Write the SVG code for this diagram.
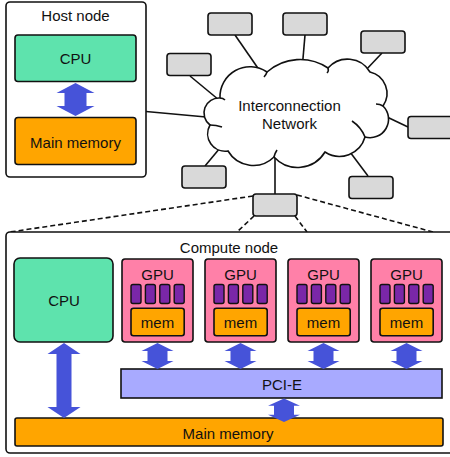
<svg xmlns="http://www.w3.org/2000/svg" xmlns:xlink="http://www.w3.org/1999/xlink" width="450" height="457" viewBox="0 0 450 457">
<style>
text{font-family:"Liberation Sans",Arial,sans-serif;font-size:15px;fill:#111;text-anchor:middle}
.box{stroke:#111;stroke-width:1.6}
.frame{fill:#fff;stroke:#111;stroke-width:1.6}
.cpu{fill:#5ee3ad}
.mem{fill:#ffa500}
.gpu{fill:#ff80a8}
.core{fill:#7a27a8;stroke:#111;stroke-width:1.4}
.pcie{fill:#a8aaff}
.sw{fill:#d9d9d9;stroke:#111;stroke-width:1.6}
.arr{fill:#4653d9}
.ln{stroke:#111;stroke-width:1.6;fill:none}
.dash{stroke:#111;stroke-width:1.6;fill:none;stroke-dasharray:5 3}
.cloud{fill:#fff;stroke:#111;stroke-width:1.6}
</style>
<defs>
<path id="garrow" class="arr" d="M0,0 L16,8 L10,8 L10,18 L16,18 L0,26 L-16,18 L-10,18 L-10,8 L-16,8 Z"/>
<g id="gpu">
<rect class="box gpu" x="0" y="0" width="71" height="83" rx="3"/>
<text x="35.5" y="21">GPU</text>
<rect class="core" x="9" y="25.5" width="10" height="19" rx="2"/>
<rect class="core" x="23.4" y="25.5" width="10" height="19" rx="2"/>
<rect class="core" x="37.8" y="25.5" width="10" height="19" rx="2"/>
<rect class="core" x="52.2" y="25.5" width="10" height="19" rx="2"/>
<rect class="box mem" x="9" y="49.3" width="53.2" height="27.5" rx="2.5"/>
<text x="35.5" y="68.5">mem</text>
</g>
</defs>

<g id="connectors">
<line class="ln" x1="146" y1="111.5" x2="206" y2="117"/>
<line class="ln" x1="235" y1="35" x2="262" y2="74"/>
<line class="ln" x1="305" y1="35" x2="302" y2="70"/>
<line class="ln" x1="382" y1="53" x2="364" y2="72"/>
<line class="ln" x1="190" y1="76" x2="219" y2="100"/>
<line class="ln" x1="387" y1="117" x2="408" y2="127"/>
<line class="ln" x1="220" y1="148" x2="205" y2="166"/>
<line class="ln" x1="350" y1="152" x2="368" y2="176"/>
<line class="ln" x1="275" y1="158" x2="275" y2="194"/>
<line class="dash" x1="253" y1="196" x2="10" y2="232"/>
<line class="dash" x1="297" y1="195" x2="433" y2="232"/>
<line class="dash" x1="254" y1="216" x2="237" y2="232"/>
<line class="dash" x1="295" y1="216" x2="307" y2="232"/>
</g>

<g id="host-node">
<rect class="frame" x="6" y="2" width="140" height="175" rx="4"/>
<text x="75.5" y="21">Host node</text>
</g>
<g id="host-cpu">
<rect class="box cpu" x="15" y="35" width="121" height="46.5" rx="3"/>
<text x="75.5" y="64">CPU</text>
</g>
<g id="host-memory">
<rect class="box mem" x="15" y="117.5" width="121" height="47" rx="3"/>
<text x="75.5" y="147.5">Main memory</text>
</g>
<g id="host-arrow">
<polygon class="arr" points="75.5,83 94.5,93 86.5,93 86.5,106 94.5,106 75.5,116 56.5,106 64.5,106 64.5,93 56.5,93"/>
</g>

<g id="network">
<path class="cloud" d="M220,98 A30,30 0 0 1 267,72 A50,50 0 0 1 328,68 A26,26 0 0 1 370,72 A22,22 0 0 1 383,106 A18.5,18.5 0 0 1 365,137 A26.5,26.5 0 0 1 325,152 A32,32 0 0 1 274,157 A29.5,29.5 0 0 1 228,151 A17.5,17.5 0 0 1 210,125 A15,15 0 0 1 220,98 Z"/>
<path class="ln" d="M220,98 Q223,98 225,100 M267,72 Q266,75 264,77 M328,68 Q329,71 327,73 M383,106 Q380,104 376,104 M365,137 Q361,127 352,121 M274,157 Q275,153 277,150 M210,125 Q216,125 222,127"/>
<text x="289.5" y="111">Interconnection</text>
<text x="289.5" y="129">Network</text>
</g>

<g id="switch1"><rect class="sw" x="208" y="13" width="44" height="22" rx="3"/></g>
<g id="switch2"><rect class="sw" x="283" y="13" width="44" height="22" rx="3"/></g>
<g id="switch3"><rect class="sw" x="361" y="31" width="44" height="22" rx="3"/></g>
<g id="switch4"><rect class="sw" x="167" y="53.5" width="44" height="22" rx="3"/></g>
<g id="switch5"><rect class="sw" x="408" y="116.5" width="50" height="22" rx="3"/></g>
<g id="switch6"><rect class="sw" x="182" y="166" width="44" height="22" rx="3"/></g>
<g id="switch7"><rect class="sw" x="349" y="176.5" width="44" height="22" rx="3"/></g>
<g id="switch8"><rect class="sw" x="253" y="194" width="44" height="22" rx="3"/></g>

<g id="compute-node">
<rect class="frame" x="6" y="232" width="460" height="221" rx="4"/>
<text x="229" y="252.5">Compute node</text>
</g>
<g id="compute-cpu">
<rect class="box cpu" x="14" y="258" width="99" height="84" rx="6"/>
<text x="64" y="306">CPU</text>
</g>
<g id="gpu1"><use xlink:href="#gpu" href="#gpu" transform="translate(122,259)"/></g>
<g id="gpu2"><use xlink:href="#gpu" href="#gpu" transform="translate(205,259)"/></g>
<g id="gpu3"><use xlink:href="#gpu" href="#gpu" transform="translate(288,259)"/></g>
<g id="gpu4"><use xlink:href="#gpu" href="#gpu" transform="translate(371,259)"/></g>
<g id="pcie">
<rect class="box pcie" x="121" y="369" width="321" height="29"/>
<text x="282" y="390">PCI-E</text>
</g>
<g id="compute-memory">
<rect class="box mem" x="15" y="418" width="428" height="28" rx="2"/>
<text x="228" y="438.5">Main memory</text>
</g>
<g id="bus-arrows">
<polygon class="arr" points="64,343 80.5,354 71.5,354 71.5,407 80.5,407 64,418 47.5,407 56.5,407 56.5,354 47.5,354"/>
<use xlink:href="#garrow" href="#garrow" transform="translate(157.5,343)"/>
<use xlink:href="#garrow" href="#garrow" transform="translate(240.5,343)"/>
<use xlink:href="#garrow" href="#garrow" transform="translate(323.5,343)"/>
<use xlink:href="#garrow" href="#garrow" transform="translate(406.5,343)"/>
<use xlink:href="#garrow" href="#garrow" transform="translate(284,398.5) scale(1,0.9)"/>
</g>
</svg>
